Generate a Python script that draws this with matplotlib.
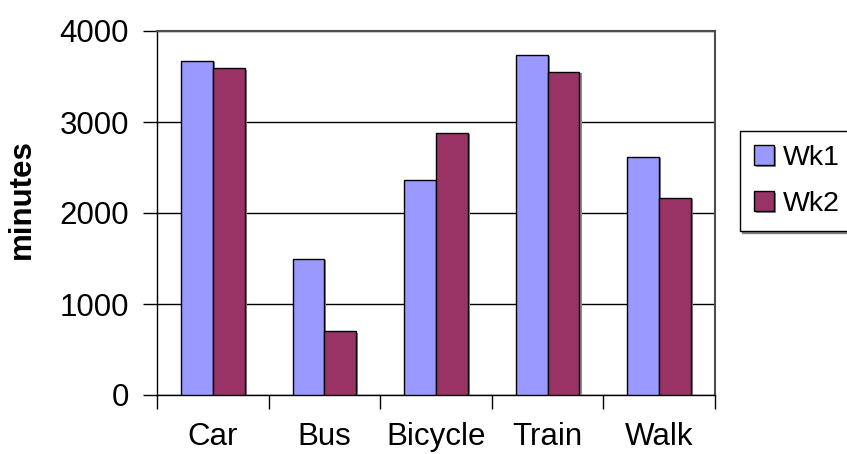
import numpy as np
import matplotlib.pyplot as plt
import matplotlib.patheffects as pe
from matplotlib.ticker import MultipleLocator, FixedLocator

plt.rcParams['font.family'] = ['Liberation Sans', 'DejaVu Sans']

modes = ['Car', 'Bus', 'Bicycle', 'Train', 'Walk']
wk1 = [3670, 1500, 2360, 3740, 2620]
wk2 = [3590, 700, 2880, 3550, 2170]
series_names = ['Wk1', 'Wk2']

fig = plt.figure(figsize=(8.47, 4.54), dpi=100)
ax = fig.add_axes([157 / 847, 1 - 395 / 454, 558 / 847, 364 / 454])

# excel style: gap width 150% -> each bar is 1/3.5 of the category
w = 1 / 3.5
x = np.arange(len(modes))
shadow = [pe.SimplePatchShadow(offset=(1.5, -1.0), shadow_rgbFace='0.55', alpha=1.0), pe.Normal()]
b1 = ax.bar(x - w / 2, wk1, w, color='#9999FF', edgecolor='black', linewidth=1.0, zorder=3, label=series_names[0])
b2 = ax.bar(x + w / 2, wk2, w, color='#993366', edgecolor='black', linewidth=1.0, zorder=3, label=series_names[1])
for bar in list(b1) + list(b2):
    bar.set_path_effects(shadow)

ax.set_xlim(-0.5, len(modes) - 0.5)
ax.set_ylim(0, 4000)
ax.yaxis.set_major_locator(MultipleLocator(1000))
ax.grid(axis='y', color='black', linewidth=1.0, zorder=1)

ax.set_xticks(x)
ax.set_xticklabels(modes)
ax.xaxis.set_minor_locator(FixedLocator(np.arange(-0.5, len(modes), 1.0)))
ax.tick_params(axis='x', which='major', length=0, pad=19.5, labelsize=22.5)
ax.tick_params(axis='x', which='minor', length=10, width=1.0, direction='out')
ax.tick_params(axis='y', length=10, width=1.0, direction='out', pad=10, labelsize=22.5)

for side in ['left', 'bottom']:
    ax.spines[side].set_color('black')
    ax.spines[side].set_linewidth(1.0)
for side in ['top', 'right']:
    ax.spines[side].set_color('0.3')
    ax.spines[side].set_linewidth(1.5)

fig.text(21.5 / 847, 1 - 199.5 / 454, 'minutes', rotation=90, ha='center', va='center',
         fontsize=22.5, fontweight='bold')

leg = fig.legend(handles=[b1, b2], labels=series_names, loc='upper left',
                 bbox_to_anchor=(740 / 847, 1 - 131 / 454), fontsize=20.5,
                 handlelength=0.7, handleheight=0.7, handletextpad=0.3,
                 labelspacing=0.7, borderpad=0.5, borderaxespad=0,
                 fancybox=False, frameon=True,
                 shadow={'ox': 1.5, 'oy': -1.5, 'color': '0.5', 'alpha': 1.0})
leg.get_frame().set_edgecolor('black')
leg.get_frame().set_linewidth(1.0)

fig.savefig('out.png', dpi=100)
